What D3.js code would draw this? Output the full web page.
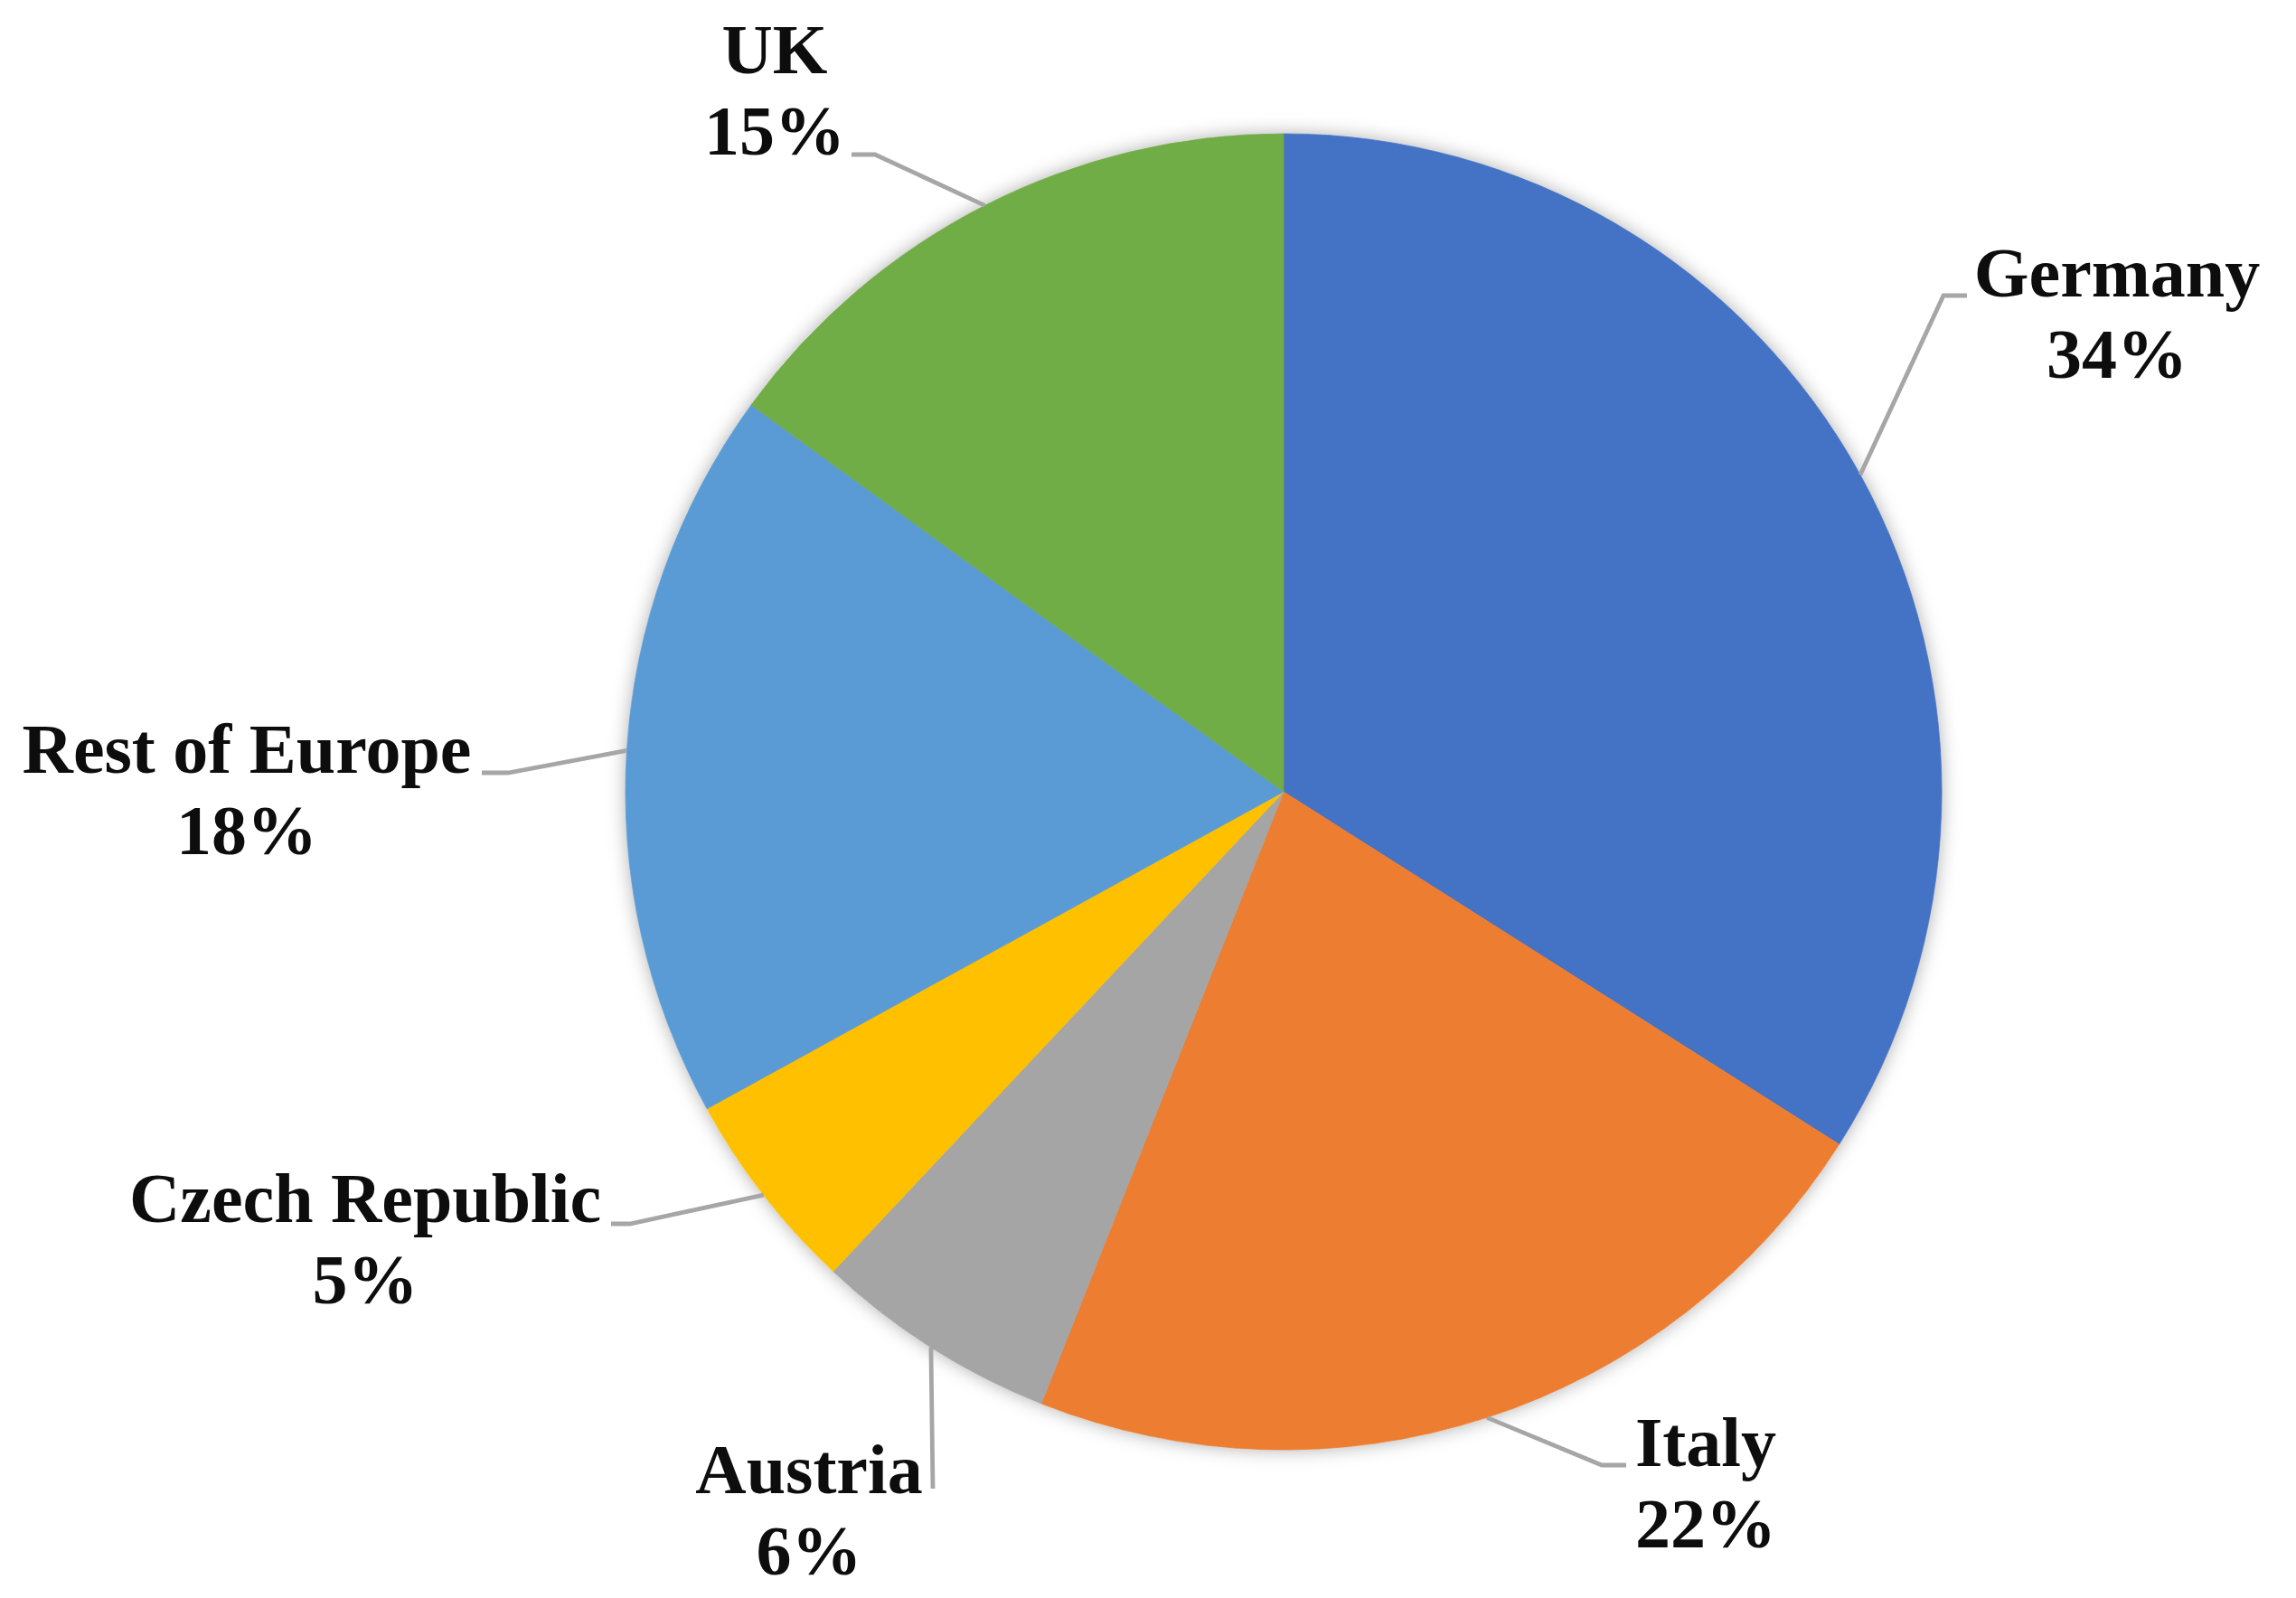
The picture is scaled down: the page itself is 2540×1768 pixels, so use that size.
<!DOCTYPE html>
<html>
<head>
<meta charset="utf-8">
<script src="https://cdn.jsdelivr.net/npm/d3@7"></script>
<style>
  html, body { margin: 0; padding: 0; background: #ffffff; }
  svg { display: block; }
</style>
</head>
<body>
<svg id="chart" width="2540" height="1768"></svg>
<script>
// ---- data ----
const categories = ["Germany", "Italy", "Austria", "Czech Republic", "Rest of Europe", "UK"];
const shares = [34, 22, 6, 5, 18, 15];
const percentLabels = ["34%", "22%", "6%", "5%", "18%", "15%"];

// ---- styling / layout (not data) ----
const colors = ["#4472C4", "#ED7D31", "#A5A5A5", "#FFC000", "#5B9BD5", "#70AD47"];
const cx = 1420, cy = 876, radius = 728;
// label anchor (text centre x, first baseline y) and leader elbow / end points
const labelLayout = [
  { x: 2342, y: 328,  elbow: [2150, 327], end: [2176, 327] },
  { x: 1887, y: 1622, elbow: [1772, 1621], end: [1799, 1621] },
  { x: 895,  y: 1652, elbow: null,         end: [1032, 1647] },
  { x: 404,  y: 1352, elbow: [697, 1354],  end: [676, 1354] },
  { x: 273,  y: 855,  elbow: [562, 855],   end: [533, 855] },
  { x: 857,  y: 81,   elbow: [968, 171],   end: [942, 171] }
];

const svg = d3.select("#chart");

const defs = svg.append("defs");
const filt = defs.append("filter").attr("id", "shadow")
  .attr("x", "-10%").attr("y", "-10%").attr("width", "120%").attr("height", "120%");
filt.append("feDropShadow")
  .attr("dx", 0).attr("dy", 0).attr("stdDeviation", 10)
  .attr("flood-color", "#000").attr("flood-opacity", 0.32);

const data = categories.map((c, i) => ({ name: c, value: shares[i], pct: percentLabels[i], color: colors[i], layout: labelLayout[i] }));

const pie = d3.pie().value(d => d.value).sort(null).startAngle(0).endAngle(2 * Math.PI);
const arcs = pie(data);
const arc = d3.arc().innerRadius(0).outerRadius(radius);

const g = svg.append("g").attr("transform", `translate(${cx},${cy})`);

// shadow base
g.append("circle").attr("r", radius).attr("fill", "#fff").attr("filter", "url(#shadow)");

g.selectAll("path.slice")
  .data(arcs)
  .enter().append("path")
  .attr("class", "slice")
  .attr("d", arc)
  .attr("fill", d => d.data.color)
  .attr("stroke", d => d.data.color)
  .attr("stroke-width", 0.8);

// leader lines: start on rim at mid angle
const lines = svg.append("g");
arcs.forEach(a => {
  const mid = (a.startAngle + a.endAngle) / 2;
  const sx = cx + radius * Math.sin(mid);
  const sy = cy - radius * Math.cos(mid);
  const L = a.data.layout;
  const pts = [[sx, sy]];
  if (L.elbow) pts.push(L.elbow);
  pts.push(L.end);
  lines.append("path")
    .attr("d", d3.line()(pts))
    .attr("fill", "none")
    .attr("stroke", "#A6A6A6")
    .attr("stroke-width", 4.8);
});

// labels
const labels = svg.append("g")
  .attr("font-family", "'Liberation Serif', 'Times New Roman', serif")
  .attr("font-weight", "bold")
  .attr("font-size", 78)
  .attr("fill", "#0d0d0d")
  .attr("text-anchor", "middle");

arcs.forEach(a => {
  const L = a.data.layout;
  const t = labels.append("text").attr("x", L.x).attr("y", L.y);
  t.append("tspan").attr("x", L.x).attr("y", L.y).text(a.data.name);
  t.append("tspan").attr("x", L.x).attr("y", L.y + 90).text(a.data.pct);
});
</script>
</body>
</html>
